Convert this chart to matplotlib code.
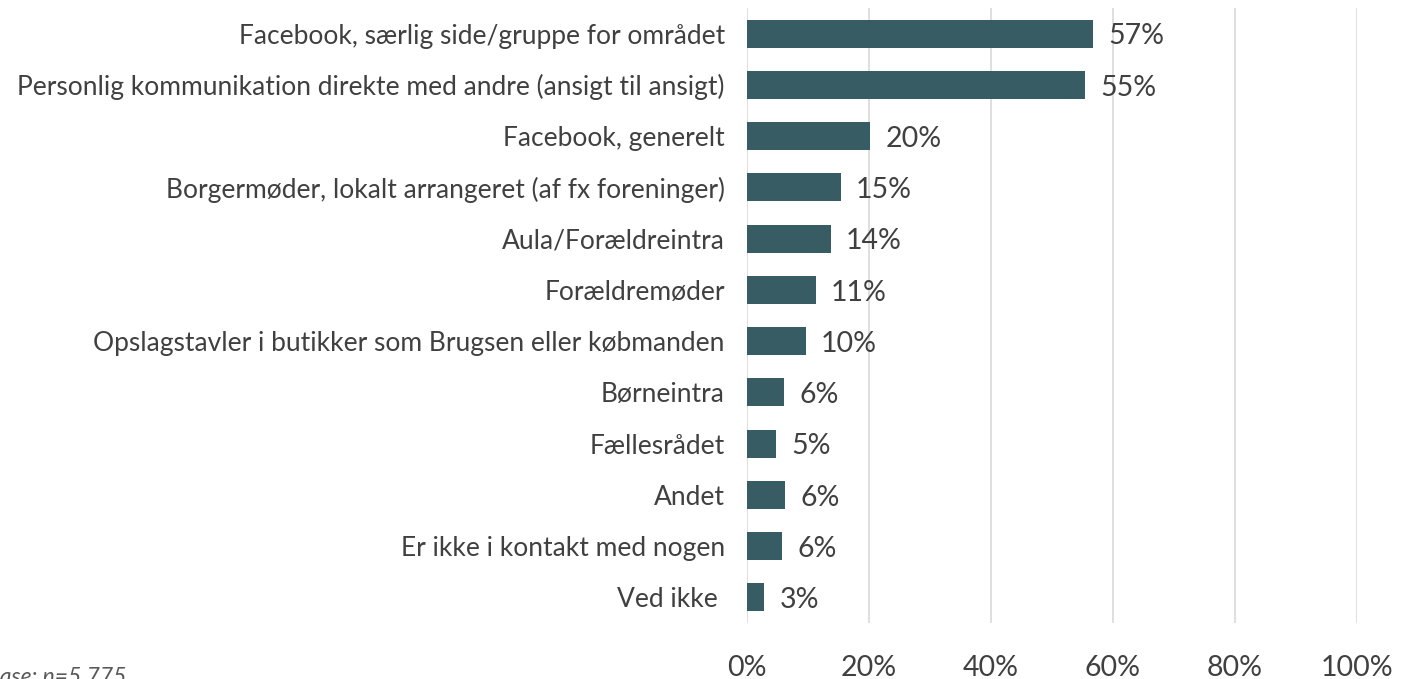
"""Kanaler for kontakt i lokalområdet - vandret søjlediagram"""

import matplotlib
matplotlib.use("Agg")
from matplotlib import pyplot as plt
from matplotlib.ticker import FuncFormatter

categories = [
    "Facebook, særlig side/gruppe for området",
    "Personlig kommunikation direkte med andre (ansigt til ansigt)",
    "Facebook, generelt",
    "Borgermøder, lokalt arrangeret (af fx foreninger)",
    "Aula/Forældreintra",
    "Forældremøder",
    "Opslagstavler i butikker som Brugsen eller købmanden",
    "Børneintra",
    "Fællesrådet",
    "Andet",
    "Er ikke i kontakt med nogen",
    "Ved ikke ",
]
shares = [0.567, 0.554, 0.202, 0.154, 0.137, 0.113, 0.096, 0.061, 0.048, 0.062, 0.057, 0.028]
value_labels = ["57%", "55%", "20%", "15%", "14%", "11%", "10%", "6%", "5%", "6%", "6%", "3%"]
x_ticks = [0, 0.2, 0.4, 0.6, 0.8, 1.0]
footnote = "Base: n=5.775"

bar_color = "#375C63"
text_color = "#404040"

plt.rcParams["font.family"] = ["Lato", "DejaVu Sans"]

fig = plt.figure(figsize=(14.02, 6.79), dpi=100)
ax = fig.add_axes([0.5328, 0.0825, 0.4351, 0.9057])

y_pos = list(range(len(categories)))
ax.barh(y_pos, shares, height=0.55, color=bar_color, zorder=3)

# percentage labels just right of each bar, nudged down a touch like the original
for y, v, lab in zip(y_pos, shares, value_labels):
    ax.annotate(lab, (v, y), xytext=(11, -2), textcoords="offset points",
                va="center", ha="left", fontsize=20.5, color=text_color)

ax.set_yticks(y_pos)
ax.set_yticklabels(categories, fontsize=19, color=text_color)
ax.set_ylim(len(categories) - 0.5, -0.5)

ax.set_xlim(0, 1.0)
ax.set_xticks(x_ticks)
ax.xaxis.set_major_formatter(FuncFormatter(lambda v, _: f"{int(round(v * 100))}%"))
ax.tick_params(axis="x", labelsize=20.5, colors=text_color, length=0, pad=23)
ax.tick_params(axis="y", length=0, pad=16)

ax.grid(axis="x", color="#D9D9D9", linewidth=1.2, zorder=0)
for side in ["top", "right", "bottom", "left"]:
    ax.spines[side].set_visible(False)

# footnote sits partly off the canvas in the reference, kept that way
fig.text(126 / 1402, 2 / 679, footnote, ha="right", va="center",
         fontsize=16.5, style="italic", color="#595959")

fig.savefig("out.png", dpi=100)
